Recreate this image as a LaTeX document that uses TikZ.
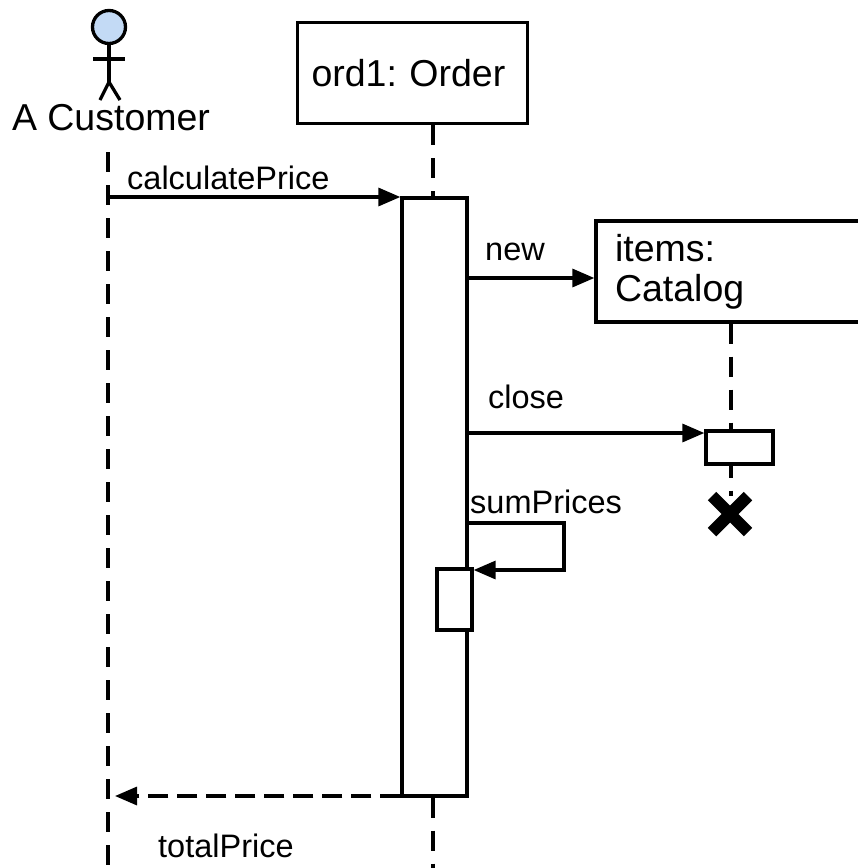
\documentclass[tikz,border=0pt]{standalone}
\usepackage{fontspec}
\setmainfont{Liberation Sans}
\usetikzlibrary{arrows.meta,shapes.misc}
\definecolor{actorblue}{RGB}{195,218,245}
\frenchspacing
\begin{document}
\begin{tikzpicture}[x=1pt,y=-1pt,
  lw/.style={line width=3.3pt},
  objbox/.style={draw,lw,rectangle,inner sep=0pt},
  actbox/.style={draw,lw,fill=white,rectangle,inner sep=0pt},
  lifeline/.style={lw,dash pattern=on 20pt off 13pt},
  msg/.style={lw,-{Triangle[length=22pt,width=18pt]}},
  ret/.style={lw,dash pattern=on 20pt off 9pt,-{Triangle[length=22pt,width=18pt]}},
  title/.style={font=\fontsize{37.5}{40}\selectfont},
  lbl/.style={font=\fontsize{32.5}{34}\selectfont,inner sep=0pt},
]
\useasboundingbox (0,0) rectangle (858,868);
\clip (0,0) rectangle (858,868);

% helper coordinates
\coordinate (ol) at (433,0);
\coordinate (il) at (731,0);
\coordinate (yend) at (0,875);
\coordinate (y197) at (0,197);
\coordinate (y278) at (0,278);
\coordinate (y433) at (0,433);
\coordinate (y523) at (0,523);
\coordinate (y570) at (0,570);
\coordinate (y796) at (0,796);

% actor
\node[circle,draw,lw,fill=actorblue,minimum size=33pt,inner sep=0pt] (head) at (109,27) {};
\coordinate (hip) at (109,82);
\coordinate (armL) at (93,59);
\coordinate (armR) at (125,59);
\coordinate (legL) at (100,100);
\coordinate (legR) at (120,100);
\draw[lw] (head.south) -- (hip);
\draw[lw] (armL) -- (armR);
\draw[lw] (legL) -- (hip) -- (legR);
\node[title,inner sep=0pt,anchor=base] (cust) at (111,130) {A Customer};
\coordinate (cl) at (108,152);
\coordinate (clend) at (108,875);
\draw[lifeline] (cl) -- (clend);

% objects
\node[objbox,title,minimum width=230pt,minimum height=101pt,text width=202pt,align=left] (order) at (412.5,73) {ord1: Order};
\node[objbox,title,minimum width=300pt,minimum height=101pt,text width=262pt,align=left] (items) at (746,271.5) {items:\\Catalog};

% activations
\node[actbox,minimum width=65pt,minimum height=598pt] (act1) at (434.5,497) {};
\node[actbox,minimum width=67pt,minimum height=33pt] (act2) at (739.5,447.5) {};
\node[actbox,minimum width=35pt,minimum height=61pt] (act3) at (454.5,599.5) {};

% destruction
\node[draw,cross out,line width=12pt,minimum size=24pt,inner sep=0pt] (kill) at (730,514) {};

% lifelines
\draw[lifeline] (order.south -| ol) -- (act1.north -| ol);
\draw[lifeline] (act1.south -| ol) -- (ol |- yend);
\draw[lifeline] (items.south -| il) -- (act2.north -| il);
\draw[lifeline,dash phase=8pt] (act2.south -| il) -- (kill.north -| il);

% messages
\draw[msg] (cl |- y197) -- (act1.west |- y197);
\node[lbl,anchor=base west] (l1) at (127,189) {calculatePrice};

\draw[msg] (act1.east |- y278) -- (items.west |- y278);
\node[lbl,anchor=base west] (l2) at (485,260) {new};

\draw[msg] (act1.east |- y433) -- (act2.west |- y433);
\node[lbl,anchor=base west] (l3) at (488,408) {close};

\coordinate (sp1) at (564,523);
\coordinate (sp2) at (564,570);
\draw[msg] (act1.east |- y523) -- (sp1) -- (sp2) -- (act3.east |- y570);
\node[lbl,anchor=base west] (l4) at (470,513) {sumPrices};

\coordinate (rt) at (115,796);
\draw[ret] (act1.west |- y796) -- (rt);
\node[lbl,anchor=base west] (l5) at (158,857) {totalPrice};
\end{tikzpicture}
\end{document}
